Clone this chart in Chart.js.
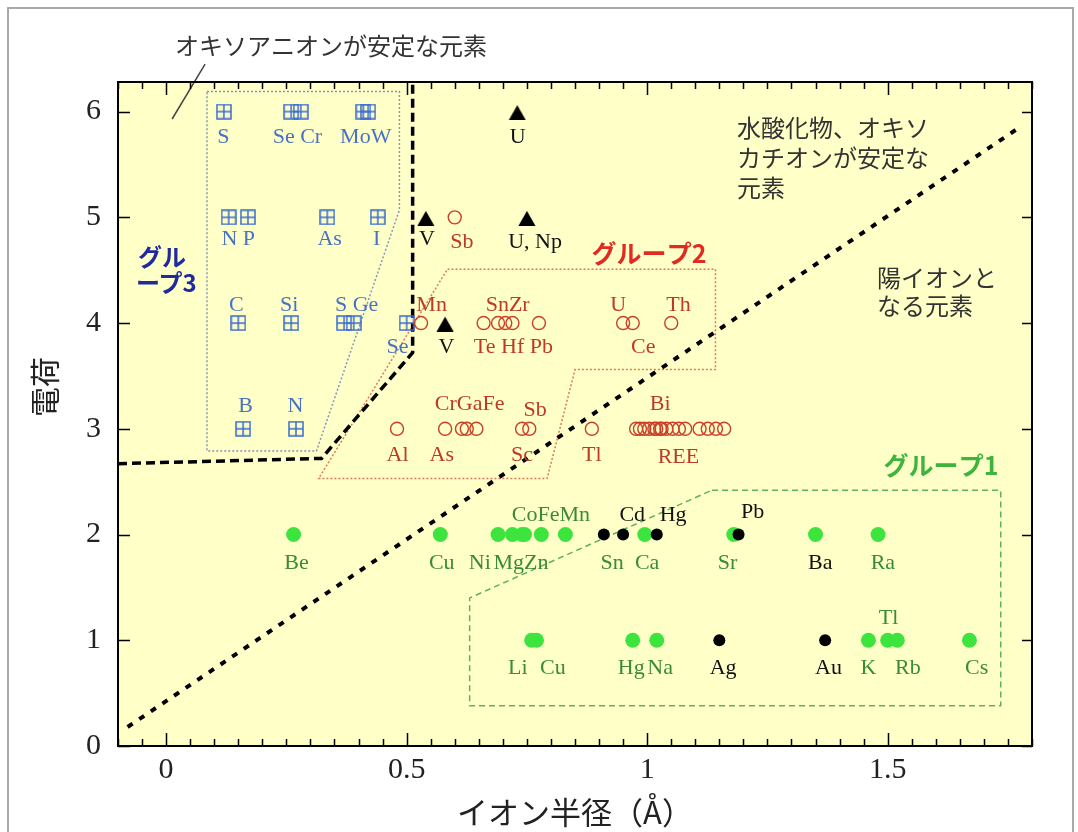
<!DOCTYPE html>
<html>
<head>
<meta charset="utf-8">
<script src="https://cdn.jsdelivr.net/npm/chart.js@4.4.1/dist/chart.umd.min.js"></script>
<style>
  html, body { margin: 0; padding: 0; background: #fff; }
  canvas { display: block; }
</style>
</head>
<body>
<canvas id="c" width="1078" height="832"></canvas>
<script>
// ---------------- data: ionic radius (Å) against charge ----------------

// Group 3: elements forming stable oxyanions (boxed-cross markers)
const oxyRadius = [0.12, 0.26, 0.28, 0.41, 0.42,  0.13, 0.17, 0.335, 0.44,  0.15, 0.26, 0.37, 0.39, 0.50,  0.16, 0.27];
const oxyCharge = [6, 6, 6, 6, 6,  5, 5, 5, 5,  4, 4, 4, 4, 4,  3, 3];

// U, Np, V (filled triangles)
const triRadius = [0.73, 0.54, 0.75, 0.58];
const triCharge = [6, 5, 5, 4];

// Group 2: hydroxides / oxycations (open circles), REE at charge 3
const g2Radius = [0.60,
  0.53, 0.66, 0.69, 0.705, 0.72, 0.775, 0.95, 0.97, 1.05,
  0.48, 0.58, 0.615, 0.625, 0.645, 0.74, 0.755, 0.885,
  0.977, 0.985, 0.994, 1.004, 1.015, 1.019, 1.027, 1.03, 1.04, 1.053, 1.066, 1.079, 1.109, 1.126, 1.143, 1.16];
const g2Charge = [5,
  4, 4, 4, 4, 4, 4, 4, 4, 4,
  3, 3, 3, 3, 3, 3, 3, 3,
  3, 3, 3, 3, 3, 3, 3, 3, 3, 3, 3, 3, 3, 3, 3, 3];

// Group 1: simple cations (green dots)
const g1Radius = [0.265, 0.57, 0.69, 0.72, 0.74, 0.745, 0.78, 0.83, 0.995, 1.18, 1.35, 1.48,
  0.76, 0.77, 0.97, 1.02, 1.46, 1.50, 1.52, 1.67];
const g1Charge = [2, 2, 2, 2, 2, 2, 2, 2, 2, 2, 2, 2,
  1, 1, 1, 1, 1, 1, 1, 1];

// soft cations (black dots)
const softRadius = [0.91, 0.95, 1.02, 1.19, 1.15, 1.37];
const softCharge = [2, 2, 2, 2, 1, 1];

// group outlines [radius, charge]
const group3Outline = [[0.085, 6.19], [0.485, 6.19], [0.485, 5.07], [0.3125, 2.79], [0.085, 2.79], [0.085, 6.19]];
const group2Outline = [[0.585, 4.51], [1.142, 4.51], [1.142, 3.56], [0.85, 3.56], [0.792, 2.53], [0.317, 2.53], [0.585, 4.51]];
const group1Outline = [[1.135, 2.42], [1.735, 2.42], [1.735, 0.38], [0.631, 0.38], [0.631, 1.40], [1.135, 2.42]];

// boundary lines [radius, charge]
const oxyanionBoundary = [[-0.1, 2.67], [0.323, 2.72], [0.5125, 3.72], [0.5125, 6.28]];
const cationBoundary = [[-0.08, 0.18], [1.777, 5.86]];
const calloutLine = [[0.0125, 5.93], [0.081, 6.45]];

// axis ticks
const xTickValues = [0, 0.5, 1, 1.5];
const xTickLabels = ['0', '0.5', '1', '1.5'];
const yTickValues = [0, 1, 2, 3, 4, 5, 6];
const yTickLabels = ['0', '1', '2', '3', '4', '5', '6'];

// element labels [text, radius, charge] (label centre)
const blueLabels = [
  ['S', 0.119, 5.76], ['Se Cr', 0.273, 5.76], ['MoW', 0.415, 5.76],
  ['N P', 0.150, 4.79], ['As', 0.340, 4.79], ['I', 0.4375, 4.79],
  ['C', 0.146, 4.17], ['Si', 0.256, 4.17], ['S Ge', 0.396, 4.17], ['Se', 0.481, 3.77],
  ['B', 0.165, 3.21], ['N', 0.269, 3.21]
];
const blackLabels = [
  ['U', 0.731, 5.76], ['V', 0.542, 4.79], ['U, Np', 0.767, 4.76], ['V', 0.583, 3.77],
  ['Cd', 0.969, 2.185], ['Hg', 1.054, 2.185], ['Pb', 1.219, 2.21], ['Ba', 1.36, 1.73],
  ['Ag', 1.158, 0.738], ['Au', 1.377, 0.738]
];
const redLabels = [
  ['Sb', 0.615, 4.76], ['Mn', 0.552, 4.17], ['SnZr', 0.71, 4.17], ['Te Hf Pb', 0.722, 3.77],
  ['U', 0.94, 4.17], ['Th', 1.065, 4.17], ['Ce', 0.992, 3.77],
  ['Al', 0.481, 2.75], ['As', 0.573, 2.75], ['CrGaFe', 0.631, 3.23], ['Sb', 0.767, 3.18],
  ['Sc', 0.74, 2.75], ['Tl', 0.885, 2.75], ['Bi', 1.027, 3.23], ['REE', 1.065, 2.73]
];
const greenLabels = [
  ['Be', 0.271, 1.73], ['Cu', 0.573, 1.73], ['Ni', 0.652, 1.73], ['MgZn', 0.7375, 1.73],
  ['CoFeMn', 0.80, 2.185], ['Sn', 0.927, 1.73], ['Ca', 1.0, 1.73], ['Sr', 1.167, 1.73], ['Ra', 1.49, 1.73],
  ['Li', 0.731, 0.738], ['Cu', 0.804, 0.738], ['Hg', 0.967, 0.738], ['Na', 1.027, 0.738],
  ['K', 1.46, 0.738], ['Rb', 1.542, 0.738], ['Cs', 1.685, 0.738], ['Tl', 1.502, 1.21]
];

// ---------------- marker images ----------------
function boxCross() {
  const c = document.createElement('canvas');
  c.width = 16; c.height = 16;
  const g = c.getContext('2d');
  g.strokeStyle = '#3a6cd0';
  g.lineWidth = 1.5;
  g.strokeRect(1, 1, 14, 14);
  g.beginPath();
  g.moveTo(8, 1); g.lineTo(8, 15);
  g.moveTo(1, 8); g.lineTo(15, 8);
  g.stroke();
  return c;
}
function triangle() {
  const c = document.createElement('canvas');
  c.width = 18; c.height = 17;
  const g = c.getContext('2d');
  g.fillStyle = '#000';
  g.beginPath();
  g.moveTo(9, 2); g.lineTo(17.5, 17); g.lineTo(0.5, 17); g.closePath();
  g.fill();
  return c;
}

const pts = (xs, ys) => xs.map((x, i) => ({ x, y: ys[i] }));
const pairs = arr => arr.map(p => ({ x: p[0], y: p[1] }));

function outline(data, color, dash, width, order) {
  return {
    data: pairs(data), showLine: true, borderColor: color, borderWidth: width,
    borderDash: dash, pointRadius: 0, fill: false, tension: 0, order
  };
}

// ---------------- drawing helpers ----------------
const serif = '"Liberation Serif", "Times New Roman", serif';
const gothic = '"Noto Sans CJK JP", "Noto Sans", sans-serif';

function text(ctx, s, x, y, font, color) {
  ctx.font = font;
  ctx.fillStyle = color;
  ctx.textAlign = 'center';
  ctx.textBaseline = 'middle';
  ctx.fillText(s, x, y);
}

const decor = {
  id: 'decor',
  beforeDraw(chart) {
    const { ctx, chartArea: a } = chart;
    ctx.save();
    ctx.fillStyle = '#ffffff';
    ctx.fillRect(0, 0, chart.width, chart.height);
    ctx.strokeStyle = '#a9a9a9';
    ctx.lineWidth = 2;
    ctx.strokeRect(8, 8, 1065, 900);
    ctx.fillStyle = '#ffffc8';
    ctx.fillRect(a.left, a.top, a.right - a.left, a.bottom - a.top);
    ctx.restore();
  },
  afterDatasetsDraw(chart) {
    const { ctx } = chart;
    const xs = chart.scales.x, ys = chart.scales.y;
    const f = '22px ' + serif;
    ctx.save();
    const put = (list, color) => list.forEach(l =>
      text(ctx, l[0], xs.getPixelForValue(l[1]), ys.getPixelForValue(l[2]), f, color));
    put(blueLabels, '#4a72c4');
    put(redLabels, '#bd3a26');
    put(greenLabels, '#3a8a3a');
    put(blackLabels, '#111111');

    // region notes
    const jp = '24px ' + gothic;
    text(ctx, 'オキソアニオンが安定な元素', 331, 46, jp, '#333');
    ctx.font = jp; ctx.fillStyle = '#333'; ctx.textAlign = 'left'; ctx.textBaseline = 'middle';
    ctx.fillText('水酸化物、オキソ', 737, 128);
    ctx.fillText('カチオンが安定な', 737, 158);
    ctx.fillText('元素', 737, 188);
    ctx.fillText('陽イオンと', 877, 278);
    ctx.fillText('なる元素', 877, 306);

    // group captions
    const gb = 'bold 24px ' + gothic;
    ctx.font = gb; ctx.fillStyle = '#1f2a9e'; ctx.textAlign = 'left';
    ctx.fillText('グル', 138, 257);
    ctx.fillText('ープ3', 136, 283);
    text(ctx, 'グループ2', 649, 253, 'bold 25px ' + gothic, '#e02a22');
    text(ctx, 'グループ1', 941, 465, 'bold 25px ' + gothic, '#3db53d');
    ctx.restore();
  },
  afterDraw(chart) {
    const { ctx, chartArea: a } = chart;
    const xs = chart.scales.x, ys = chart.scales.y;
    ctx.save();
    ctx.strokeStyle = '#000';
    ctx.lineWidth = 2;
    ctx.strokeRect(a.left, a.top, a.right - a.left, a.bottom - a.top);

    // inward tick marks
    ctx.lineWidth = 1.5;
    ctx.beginPath();
    for (let k = -2; k <= 36; k++) {
      const v = k * 0.05;
      const px = Math.round(xs.getPixelForValue(v)) + 0.5;
      const len = (k % 10 === 0) ? 13 : 7;
      ctx.moveTo(px, a.bottom); ctx.lineTo(px, a.bottom - len);
      ctx.moveTo(px, a.top); ctx.lineTo(px, a.top + len);
    }
    yTickValues.forEach(v => {
      const py = Math.round(ys.getPixelForValue(v)) + 0.5;
      ctx.moveTo(a.left, py); ctx.lineTo(a.left + 12, py);
      ctx.moveTo(a.right, py); ctx.lineTo(a.right - 10, py);
    });
    ctx.stroke();

    // axis titles
    text(ctx, 'イオン半径（Å）', 575, 812, '31px ' + gothic, '#222');
    ctx.translate(45, 387);
    ctx.rotate(-Math.PI / 2);
    text(ctx, '電荷', 0, 0, '30px ' + gothic, '#222');
    ctx.restore();
  }
};

new Chart(document.getElementById('c'), {
  type: 'scatter',
  data: {
    datasets: [
      { data: pts(softRadius, softCharge), pointStyle: 'circle', pointRadius: 6,
        backgroundColor: '#000', borderWidth: 0, order: 0 },
      { data: pts(g1Radius, g1Charge), pointStyle: 'circle', pointRadius: 7.5,
        backgroundColor: '#3ee43e', borderWidth: 0, order: 1 },
      { data: pts(g2Radius, g2Charge), pointStyle: 'circle', pointRadius: 6.5,
        backgroundColor: 'rgba(0,0,0,0)', borderColor: '#cc3f2a', borderWidth: 1.4, order: 2 },
      { data: pts(triRadius, triCharge), pointStyle: triangle(), order: 3 },
      { data: pts(oxyRadius, oxyCharge), pointStyle: boxCross(), order: 4 },
      outline(group3Outline, '#8596bd', [2, 2], 1.5, 6),
      outline(group2Outline, '#e2775a', [2, 2], 1.5, 6),
      outline(group1Outline, '#5fb05f', [6, 4], 1.5, 6),
      outline(oxyanionBoundary, '#000', [9, 5], 3.5, 5),
      outline(cationBoundary, '#000', [6, 8], 4, 5),
      Object.assign(outline(calloutLine, '#444', [], 1.5, 5), { clip: false })
    ]
  },
  options: {
    responsive: false,
    animation: false,
    events: [],
    layout: { padding: { top: 82, right: 46, left: 0, bottom: 0 } },
    plugins: { legend: { display: false }, tooltip: { enabled: false } },
    scales: {
      x: {
        type: 'linear', min: -0.1, max: 1.8,
        afterBuildTicks: s => { s.ticks = xTickValues.map(v => ({ value: v })); },
        afterFit: s => { s.height = 86; },
        grid: { display: false, drawTicks: false },
        border: { display: false },
        ticks: { autoSkip: false, maxRotation: 0, padding: 6, color: '#222',
          font: { family: serif, size: 30 },
          callback: (v, i) => xTickLabels[i] }
      },
      y: {
        type: 'linear', min: 0, max: 6.28,
        afterBuildTicks: s => { s.ticks = yTickValues.map(v => ({ value: v })); },
        afterFit: s => { s.width = 118; },
        grid: { display: false, drawTicks: false },
        border: { display: false },
        ticks: { autoSkip: false, padding: 17, color: '#222',
          font: { family: serif, size: 30 },
          callback: (v, i) => yTickLabels[i] }
      }
    }
  },
  plugins: [decor]
});
</script>
</body>
</html>
